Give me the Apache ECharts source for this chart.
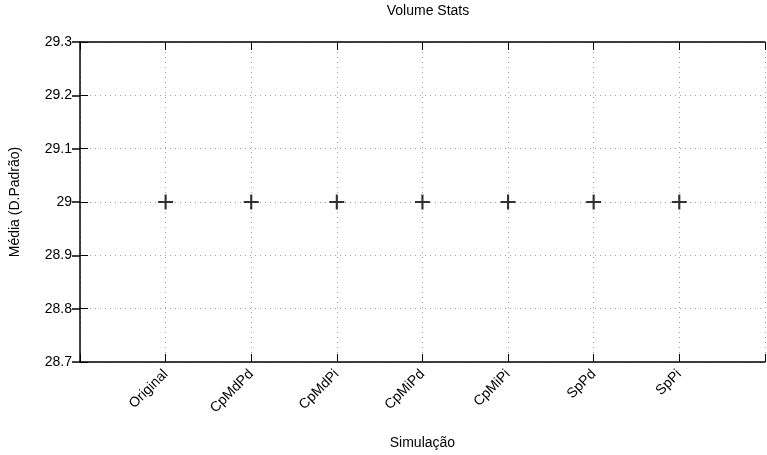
<!DOCTYPE html>
<html>
<head>
<meta charset="utf-8">
<script src="https://cdn.jsdelivr.net/npm/echarts@6/dist/echarts.min.js"></script>
<style>
html,body{margin:0;padding:0;background:#fff;}
#chart{width:767px;height:455px;}
</style>
</head>
<body>
<div id="chart"></div>
<script>
const categories = ['Original','CpMdPd','CpMdPi','CpMiPd','CpMiPi','SpPd','SpPi'];
const means = [29, 29, 29, 29, 29, 29, 29];
const yTicks = ['28.7','28.8','28.9','29','29.1','29.2','29.3'];

const FONT = "'Liberation Sans', Arial, Helvetica, sans-serif";
const plus = 'path://M0,6H14V8H0Z M6,0H8V14H6Z';

const chart = echarts.init(document.getElementById('chart'), null, {renderer:'canvas'});
const gridLine = {show:true, lineStyle:{color:'#a0a0a0', type:[1,4], width:1}};
const option = {
  animation:false,
  backgroundColor:'#fff',
  textStyle:{fontFamily:FONT},
  title:{text:'Volume Stats', left:423, top:-1, textAlign:'center',
    textStyle:{fontSize:14, fontWeight:'normal', color:'#000', fontFamily:FONT}},
  grid:{left:79, right:0, top:42, bottom:93, containLabel:false},
  xAxis:[{
    type:'value', min:0, max:categories.length+1, interval:1, position:'bottom',
    name:'Simulação', nameLocation:'middle', nameGap:74,
    nameTextStyle:{fontSize:14, color:'#000', fontFamily:FONT},
    axisLine:{show:true, onZero:false, lineStyle:{color:'#000', width:1.5}},
    axisTick:{show:true, inside:true, length:8, lineStyle:{color:'#000', width:1}},
    axisLabel:{rotate:45, margin:10, fontSize:14, color:'#000', fontFamily:FONT,
      formatter:v => (v>=1 && v<=categories.length) ? categories[Math.round(v)-1] : ''},
    splitLine:gridLine
  },{
    type:'value', min:0, max:categories.length+1, interval:1, position:'top',
    axisLine:{show:true, onZero:false, lineStyle:{color:'#000', width:1.5}},
    axisTick:{show:true, inside:true, length:8, lineStyle:{color:'#000', width:1}},
    axisLabel:{show:false}, splitLine:{show:false}
  }],
  yAxis:[{
    type:'value', min:28.7, max:29.3, interval:0.1, position:'left',
    name:'Média (D.Padrão)', nameLocation:'middle', nameGap:58,
    nameTextStyle:{fontSize:14, color:'#000', fontFamily:FONT},
    axisLine:{show:true, onZero:false, lineStyle:{color:'#000', width:1.5}},
    axisTick:{show:true, inside:true, length:8, lineStyle:{color:'#000', width:1}},
    axisLabel:{margin:8, fontSize:14, color:'#000', fontFamily:FONT,
      formatter:v => yTicks[Math.round((v-28.7)*10)]},
    splitLine:gridLine
  },{
    type:'value', min:28.7, max:29.3, interval:0.1, position:'right',
    axisLine:{show:false},
    axisTick:{show:true, inside:true, length:8, lineStyle:{color:'#000', width:1.5}},
    axisLabel:{show:false}, splitLine:{show:false}
  }],
  series:[{
    type:'scatter', xAxisIndex:0, yAxisIndex:0,
    symbol:plus, symbolSize:15,
    itemStyle:{color:'#000'},
    data:means.map((m,i)=>[i+1, m])
  }]
};
chart.setOption(option);
</script>
</body>
</html>
